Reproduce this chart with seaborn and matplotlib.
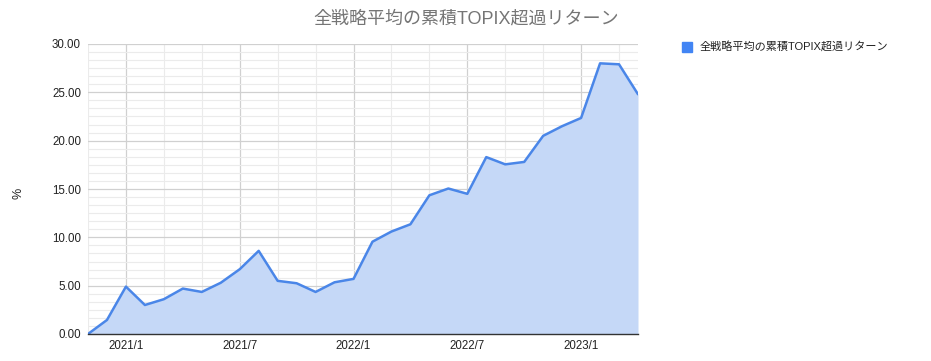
import numpy as np
import pandas as pd
import matplotlib
matplotlib.use("Agg")
import matplotlib.pyplot as plt
import seaborn as sns
from matplotlib.ticker import MultipleLocator, FixedLocator

months = ["2020/11", "2020/12",
          "2021/1", "2021/2", "2021/3", "2021/4", "2021/5", "2021/6",
          "2021/7", "2021/8", "2021/9", "2021/10", "2021/11", "2021/12",
          "2022/1", "2022/2", "2022/3", "2022/4", "2022/5", "2022/6",
          "2022/7", "2022/8", "2022/9", "2022/10", "2022/11", "2022/12",
          "2023/1", "2023/2", "2023/3", "2023/4"]
values = [0.0, 1.45,
          4.9, 3.0, 3.6, 4.7, 4.35, 5.3,
          6.7, 8.6, 5.5, 5.25, 4.35, 5.35,
          5.7, 9.55, 10.6, 11.35, 14.35, 15.05,
          14.5, 18.3, 17.55, 17.8, 20.5, 21.5,
          22.35, 28.0, 27.9, 24.8]
tick_labels = ["2021/1", "2021/7", "2022/1", "2022/7", "2023/1"]
series_name = "全戦略平均の累積TOPIX超過リターン"
title = "全戦略平均の累積TOPIX超過リターン"

sns.set_theme(style="white")
plt.rcParams['font.family'] = ['Liberation Sans', 'Noto Sans CJK JP', 'DejaVu Sans']

df = pd.DataFrame({"idx": np.arange(len(months)), "value": values})

fig = plt.figure(figsize=(9.31, 3.61), dpi=100)
ax = fig.add_axes([88/931, 1-334/361, 550/931, 290/361])

line_color = "#4a86e8"
ax.fill_between(df["idx"], df["value"], 0, color="#c5d8f7", zorder=2, linewidth=0)
sns.lineplot(data=df, x="idx", y="value", ax=ax, color=line_color, linewidth=1.8, zorder=3)

ax.set_xlim(0, len(months) - 1)
ax.set_ylim(0, 30)

# gridlines
ax.yaxis.set_major_locator(MultipleLocator(5))
ax.yaxis.set_minor_locator(MultipleLocator(5/6))
tick_pos = [months.index(t) for t in tick_labels]
ax.xaxis.set_major_locator(FixedLocator(tick_pos))
ax.xaxis.set_minor_locator(FixedLocator(list(range(0, len(months), 2))))
ax.set_xticklabels(tick_labels)
ax.yaxis.set_major_formatter(matplotlib.ticker.FuncFormatter(lambda v, p: f"{v:.2f}"))

ax.grid(which="major", axis="both", color="#d0d0d0", linewidth=0.9, zorder=1)
ax.grid(which="minor", axis="both", color="#ebebeb", linewidth=0.8, zorder=1)
ax.set_axisbelow(True)

for s in ["top", "right", "left"]:
    ax.spines[s].set_visible(False)
ax.spines["bottom"].set_color("#333333")
ax.spines["bottom"].set_linewidth(1.0)
ax.spines["bottom"].set_zorder(4)

ax.tick_params(axis="both", which="both", length=0, labelsize=8.3, colors="#222222")
ax.tick_params(axis="x", pad=4)
ax.tick_params(axis="y", pad=5)

ax.set_xlabel("")
ax.set_ylabel("")
fig.text(19/931, 1-193/361, "%", rotation=90, ha="center", va="center", fontsize=9, color="#222222")

fig.text(466/931, 1-19/361, title, ha="center", va="center", fontsize=13, color="#757575")

# legend
fig.patches.append(matplotlib.patches.Rectangle((682/931, 1-52/361), 10/931, 10/361,
                                                transform=fig.transFigure, color="#4285f4"))
fig.text(700/931, 1-47/361, series_name, ha="left", va="center", fontsize=8, color="#222222")

fig.savefig("out.png", dpi=100)
